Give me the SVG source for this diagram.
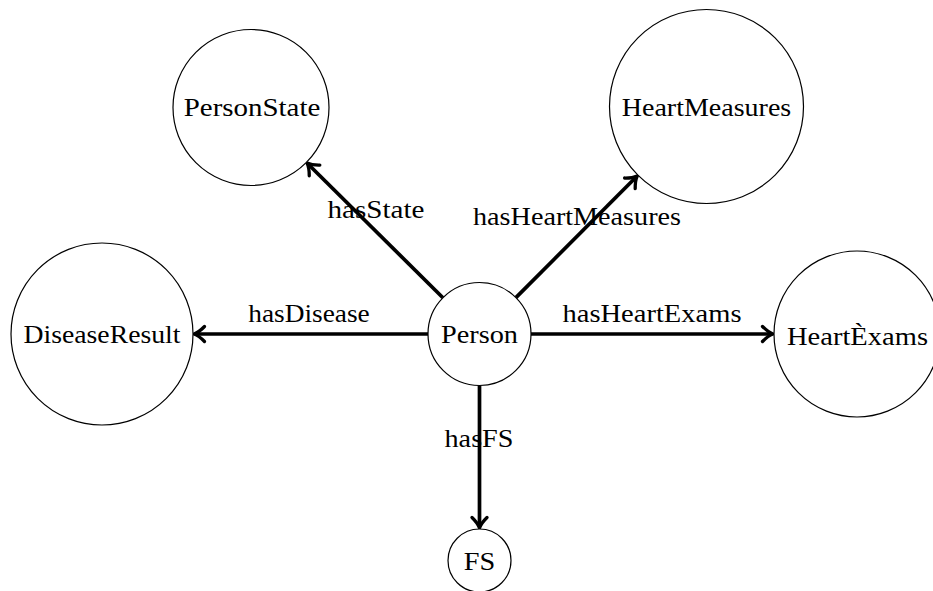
<svg xmlns="http://www.w3.org/2000/svg" width="933" height="591" viewBox="0 0 933 591">
<style>
.node circle{fill:#fff;stroke:#000;stroke-width:1.2}
text{font-family:"Liberation Serif","Times New Roman",serif;font-size:26px;fill:#000;text-anchor:middle}
.edge{stroke:#000;stroke-width:3.7;fill:none;marker-end:url(#arr)}
</style>
<defs>
<marker id="arr" markerUnits="userSpaceOnUse" markerWidth="30" markerHeight="30" orient="auto" refX="0" refY="0" overflow="visible">
<path d="M -8.5 -7.5 Q -3 -1.8 2 0 Q -3 1.8 -8.5 7.5" fill="none" stroke="#000" stroke-width="3.3" stroke-linecap="round" stroke-linejoin="round"/>
</marker>
</defs>
<rect width="933" height="591" fill="#fff"/>
<g id="connectors">
<path class="edge" d="M 442.9 297.7 L 308.5 164.5"/>
<path class="edge" d="M 515.9 297.6 L 635.9 177.3"/>
<path class="edge" d="M 428 334 L 196 334"/>
<path class="edge" d="M 531 334 L 771 334"/>
<path class="edge" d="M 479.5 385.5 L 479.5 526"/>
</g>
<g id="labels">
<text x="376" y="218.3" textLength="97" lengthAdjust="spacingAndGlyphs">hasState</text>
<text x="577" y="225" textLength="208" lengthAdjust="spacingAndGlyphs">hasHeartMeasures</text>
<text x="309" y="321.7" textLength="121.5" lengthAdjust="spacingAndGlyphs">hasDisease</text>
<text x="652" y="321.7" textLength="179" lengthAdjust="spacingAndGlyphs">hasHeartExams</text>
<text x="479" y="446.7" textLength="69" lengthAdjust="spacingAndGlyphs">hasFS</text>
</g>
<g id="node-Person" class="node">
<circle cx="479.5" cy="334" r="51.5"/>
<text x="479.5" y="343" textLength="77" lengthAdjust="spacingAndGlyphs">Person</text>
</g>
<g id="node-PersonState" class="node">
<circle cx="251" cy="107.5" r="78"/>
<text x="252" y="116" textLength="136.5" lengthAdjust="spacingAndGlyphs">PersonState</text>
</g>
<g id="node-HeartMeasures" class="node">
<circle cx="706.5" cy="106.5" r="97"/>
<text x="706.5" y="115.5" textLength="169.5" lengthAdjust="spacingAndGlyphs">HeartMeasures</text>
</g>
<g id="node-DiseaseResult" class="node">
<circle cx="102" cy="334" r="91"/>
<text x="102" y="343" textLength="157" lengthAdjust="spacingAndGlyphs">DiseaseResult</text>
</g>
<g id="node-HeartExams" class="node">
<circle cx="857" cy="334" r="83"/>
<text x="857.5" y="345" textLength="141" lengthAdjust="spacingAndGlyphs">HeartÈxams</text>
</g>
<g id="node-FS" class="node">
<circle cx="479.5" cy="560.5" r="31.5"/>
<text x="479.5" y="569.5" textLength="31.5" lengthAdjust="spacingAndGlyphs">FS</text>
</g>
</svg>
